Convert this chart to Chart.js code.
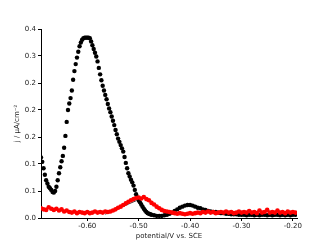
<!DOCTYPE html>
<html>
<head>
<meta charset="utf-8">
<script src="https://cdn.jsdelivr.net/npm/chart.js@4"></script>
<style>
  html, body { margin: 0; padding: 0; background: #fff; }
  canvas { display: block; }
</style>
</head>
<body>
<canvas id="chart" width="328" height="245"></canvas>
<script>
// black trace: denser sampling where it is steep
const blackPotential = [
  -0.6900, -0.6875, -0.6850, -0.6825, -0.6800, -0.6775, -0.6750, -0.6725, -0.6700, -0.6675,
  -0.6650, -0.6625, -0.6600, -0.6575, -0.6550, -0.6525, -0.6500, -0.6475, -0.6450, -0.6425,
  -0.6400, -0.6375, -0.6350, -0.6325, -0.6300, -0.6275, -0.6250, -0.6225, -0.6200, -0.6175,
  -0.6150, -0.6125, -0.6100, -0.6075, -0.6050, -0.6025, -0.6000, -0.5975, -0.5950, -0.5925,
  -0.5900, -0.5875, -0.5850, -0.5825, -0.5800, -0.5775, -0.5750, -0.5725, -0.5700, -0.5675,
  -0.5650, -0.5625, -0.5600, -0.5575, -0.5550, -0.5525, -0.5500, -0.5475, -0.5450, -0.5425,
  -0.5400, -0.5375, -0.5350, -0.5325, -0.5300, -0.5275, -0.5250, -0.5225, -0.5200, -0.5175,
  -0.5150, -0.5125, -0.5100, -0.5075, -0.5050, -0.5025, -0.5000, -0.4975, -0.4950, -0.4925,
  -0.4900, -0.4875, -0.4850, -0.4825, -0.4800, -0.4775, -0.4750,
  -0.470, -0.465, -0.460, -0.455, -0.450, -0.445, -0.440, -0.435, -0.430, -0.425,
  -0.420, -0.415, -0.410, -0.405, -0.400, -0.395, -0.390, -0.385, -0.380, -0.375,
  -0.370, -0.365, -0.360, -0.355, -0.350, -0.345, -0.340, -0.335, -0.330, -0.325,
  -0.320, -0.315, -0.310, -0.305, -0.300, -0.295, -0.290, -0.285, -0.280, -0.275,
  -0.270, -0.265, -0.260, -0.255, -0.250, -0.245, -0.240, -0.235, -0.230, -0.225,
  -0.220, -0.215, -0.210, -0.205, -0.200, -0.195
];
const blackCurrent = [
  0.112, 0.104, 0.092, 0.080, 0.070, 0.064, 0.058, 0.055, 0.052, 0.048,
  0.047, 0.050, 0.058, 0.070, 0.083, 0.094, 0.105, 0.115, 0.130, 0.152,
  0.178, 0.200, 0.212, 0.222, 0.236, 0.256, 0.272, 0.285, 0.297, 0.308,
  0.318, 0.325, 0.330, 0.333, 0.334, 0.334, 0.334, 0.334, 0.333, 0.327,
  0.320, 0.313, 0.306, 0.299, 0.290, 0.278, 0.266, 0.255, 0.245, 0.236,
  0.228, 0.220, 0.211, 0.203, 0.196, 0.188, 0.180, 0.172, 0.163, 0.155,
  0.147, 0.141, 0.135, 0.129, 0.123, 0.113, 0.102, 0.092, 0.083, 0.077,
  0.071, 0.066, 0.060, 0.052, 0.044, 0.038, 0.033, 0.029, 0.025, 0.021,
  0.017, 0.014, 0.011, 0.009, 0.008, 0.007, 0.006,
  0.005, 0.004, 0.004, 0.004, 0.005, 0.006, 0.008, 0.010, 0.013, 0.016,
  0.019, 0.021, 0.023, 0.024, 0.024, 0.023, 0.021, 0.019, 0.018, 0.016,
  0.015, 0.013, 0.012, 0.011, 0.011, 0.010, 0.009, 0.009, 0.008, 0.008,
  0.007, 0.007, 0.007, 0.006, 0.006, 0.006, 0.005, 0.006, 0.006, 0.005,
  0.006, 0.005, 0.006, 0.006, 0.005, 0.006, 0.005, 0.006, 0.006, 0.005,
  0.006, 0.005, 0.006, 0.005, 0.006, 0.006
];

// red trace
const redPotential = [
  -0.690, -0.685, -0.680, -0.675, -0.670, -0.665, -0.660, -0.655, -0.650, -0.645,
  -0.640, -0.635, -0.630, -0.625, -0.620, -0.615, -0.610, -0.605, -0.600, -0.595,
  -0.590, -0.585, -0.580, -0.575, -0.570, -0.565, -0.560, -0.555, -0.550, -0.545,
  -0.540, -0.535, -0.530, -0.525, -0.520, -0.515, -0.510, -0.505, -0.500, -0.495,
  -0.490, -0.485, -0.480, -0.475, -0.470, -0.465, -0.460, -0.455, -0.450, -0.445,
  -0.440, -0.435, -0.430, -0.425, -0.420, -0.415, -0.410, -0.405, -0.400, -0.395,
  -0.390, -0.385, -0.380, -0.375, -0.370, -0.365, -0.360, -0.355, -0.350, -0.345,
  -0.340, -0.335, -0.330, -0.325, -0.320, -0.315, -0.310, -0.305, -0.300, -0.295,
  -0.290, -0.285, -0.280, -0.275, -0.270, -0.265, -0.260, -0.255, -0.250, -0.245,
  -0.240, -0.235, -0.230, -0.225, -0.220, -0.215, -0.210, -0.205, -0.200, -0.195
];
const redCurrent = [
  0.018, 0.016, 0.015, 0.020, 0.017, 0.015, 0.017, 0.014, 0.016, 0.012,
  0.014, 0.011, 0.010, 0.012, 0.009, 0.011, 0.010, 0.009, 0.011, 0.009,
  0.010, 0.012, 0.010, 0.011, 0.010, 0.012, 0.011, 0.012, 0.014, 0.016,
  0.019, 0.021, 0.024, 0.027, 0.030, 0.033, 0.035, 0.037, 0.038, 0.036,
  0.039, 0.035, 0.033, 0.028, 0.025, 0.021, 0.018, 0.015, 0.013, 0.012,
  0.011, 0.010, 0.009, 0.008, 0.009, 0.008, 0.007, 0.008, 0.009, 0.008,
  0.009, 0.010, 0.009, 0.011, 0.010, 0.012, 0.010, 0.011, 0.009, 0.010,
  0.011, 0.010, 0.012, 0.010, 0.011, 0.009, 0.010, 0.012, 0.010, 0.011,
  0.010, 0.013, 0.010, 0.011, 0.009, 0.014, 0.010, 0.011, 0.015, 0.010,
  0.011, 0.010, 0.014, 0.010, 0.011, 0.009, 0.012, 0.010, 0.011, 0.010
];

// thin baseline drawn under the red bump
const baselinePotential = [-0.565, -0.505];
const baselineCurrent = [0.007, 0.032];

const xTicks = [-0.6, -0.5, -0.4, -0.3, -0.2];
const xTickLabels = ['-0.60', '-0.50', '-0.40', '-0.30', '-0.20'];
const yTicks = [0, 0.05, 0.10, 0.15, 0.20, 0.25, 0.30, 0.35];
const yTickLabels = ['0.0', '0.1', '0.1', '0.2', '0.2', '0.2', '0.3', '0.4'];

function toPoints(xs, ys) {
    return xs.map((x, i) => ({ x: x, y: ys[i] }));
}

const tickFont = { family: "'DejaVu Sans', sans-serif", size: 7 };

new Chart(document.getElementById('chart'), {
    type: 'scatter',
    data: {
        datasets: [
            {
                label: 'black',
                data: toPoints(blackPotential, blackCurrent),
                backgroundColor: '#000',
                borderColor: '#000',
                borderWidth: 0,
                pointRadius: 2.2,
                order: 2
            },
            {
                label: 'red',
                data: toPoints(redPotential, redCurrent),
                backgroundColor: '#ff0000',
                borderColor: '#ff0000',
                borderWidth: 0,
                pointRadius: 2.3,
                order: 1
            },
            {
                label: 'baseline',
                data: toPoints(baselinePotential, baselineCurrent),
                showLine: true,
                borderColor: '#000',
                borderWidth: 0.8,
                pointRadius: 0,
                order: 3
            }
        ]
    },
    options: {
        responsive: false,
        animation: false,
        events: [],
        layout: { padding: { left: 0, right: 31, top: 29, bottom: 0 } },
        plugins: {
            legend: { display: false },
            tooltip: { enabled: false }
        },
        scales: {
            x: {
                type: 'linear',
                min: -0.69,
                max: -0.192,
                afterBuildTicks: function(axis) {
                    axis.ticks = xTicks.map(v => ({ value: v }));
                },
                afterFit: function(axis) { axis.height = 27; },
                ticks: {
                    font: tickFont,
                    color: '#222',
                    padding: 1,
                    maxRotation: 0,
                    callback: function(value, index) { return xTickLabels[index]; }
                },
                grid: { drawOnChartArea: false, drawTicks: true, tickLength: 3, color: '#000' },
                border: { display: true, color: '#000', width: 1 },
                title: {
                    display: true,
                    text: 'potential/V vs. SCE',
                    font: tickFont,
                    color: '#222',
                    padding: { top: 0, bottom: 5 }
                }
            },
            y: {
                type: 'linear',
                min: 0,
                max: 0.35,
                afterBuildTicks: function(axis) {
                    axis.ticks = yTicks.map(v => ({ value: v }));
                },
                afterFit: function(axis) { axis.width = 41; },
                ticks: {
                    font: tickFont,
                    color: '#222',
                    padding: 2,
                    callback: function(value, index) { return yTickLabels[index]; }
                },
                grid: { drawOnChartArea: false, drawTicks: true, tickLength: 3, color: '#000' },
                border: { display: true, color: '#000', width: 1 },
                title: {
                    display: true,
                    text: 'j / μA/cm⁻²',
                    font: tickFont,
                    color: '#222',
                    padding: { top: 13, bottom: 0 }
                }
            }
        }
    }
});
</script>
</body>
</html>
